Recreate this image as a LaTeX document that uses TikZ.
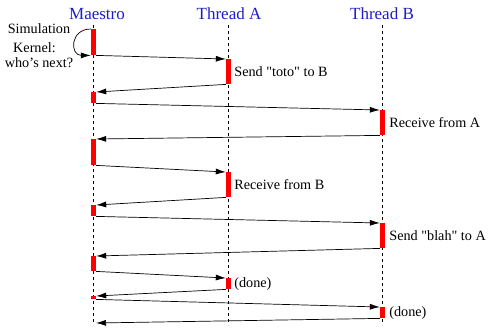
\documentclass[tikz,border=0pt]{standalone}
\usepackage{fontspec}
\setmainfont{Liberation Serif}[Ligatures=TeXOff]
\usetikzlibrary{arrows.meta}
\definecolor{titleblue}{RGB}{30,30,200}
\begin{document}
\begin{tikzpicture}[x=1pt,y=-1pt,
  title/.style={text=titleblue,font=\fontsize{17}{19}\selectfont,inner sep=0pt},
  lbl/.style={font=\fontsize{14.2}{16}\selectfont,inner sep=0pt,anchor=west},
  bar/.style={fill=red,draw=none,inner sep=0pt,minimum width=5pt,anchor=north},
  life/.style={line width=0.6pt,dash pattern=on 3pt off 3pt},
  msg/.style={line width=0.7pt,-{Latex[length=10pt,width=6pt]}}]
\useasboundingbox (0,0) rectangle (489,327);
% titles
\node[title] (tm) at (97,14) {Maestro};
\node[title] (ta) at (229,14) {Thread A};
\node[title] (tb) at (382,14) {Thread B};
% lifelines
\coordinate (mtop) at (93,25); \coordinate (mbot) at (93,325);
\coordinate (atop) at (228,25); \coordinate (abot) at (228,325);
\coordinate (btop) at (382,25); \coordinate (bbot) at (382,325);
\draw[life] (mtop) -- (mbot);
\draw[life] (atop) -- (abot);
\draw[life] (btop) -- (bbot);
% activation bars
\node[bar,minimum height=26pt] (m1) at (93.5,29) {};
\node[bar,minimum height=25pt] (a1) at (228.5,59) {};
\node[bar,minimum height=11pt] (m2) at (93.5,92) {};
\node[bar,minimum height=25pt] (b1) at (382.5,110) {};
\node[bar,minimum height=26pt] (m3) at (93.5,139) {};
\node[bar,minimum height=25pt] (a2) at (228.5,172) {};
\node[bar,minimum height=11pt] (m4) at (93.5,205) {};
\node[bar,minimum height=25pt] (b2) at (382.5,223) {};
\node[bar,minimum height=15pt] (m5) at (93.5,256) {};
\node[bar,minimum height=11pt] (a3) at (228.5,278) {};
\node[bar,minimum height=3pt] (m6) at (93.5,296) {};
\node[bar,minimum height=11pt] (b3) at (382.5,307) {};
\coordinate (mend) at (96,323);
% labels
\node[lbl] (la1) at ([xshift=3pt]a1.east) {Send "toto" to B};
\node[lbl] (lb1) at ([xshift=4pt]b1.east) {Receive from A};
\node[lbl] (la2) at ([xshift=3pt]a2.east) {Receive from B};
\node[lbl] (lb2) at ([xshift=4pt]b2.east) {Send "blah" to A};
\node[lbl] (la3) at ([xshift=3pt]a3.east) {(done)};
\node[lbl] (lb3) at ([xshift=4pt]b3.east) {(done)};
\node[lbl,anchor=center] (k1) at (39,28.5) {Simulation};
\node[lbl,anchor=center] (k2) at (34.5,48) {Kernel:};
\node[lbl,anchor=center] (k3) at (39,62.5) {who’s next?};
% loop
\draw[msg] (m1.north west) .. controls +(-21,0) and +(-21,0) .. (m1.south west);
% messages
\draw[msg] (m1.south east) -- (a1.north west);
\draw[msg] (a1.south west) -- (m2.north east);
\draw[msg] (m2.south east) -- (b1.north west);
\draw[msg] (b1.south west) -- (m3.north east);
\draw[msg] (m3.south east) -- (a2.north west);
\draw[msg] (a2.south west) -- (m4.north east);
\draw[msg] (m4.south east) -- (b2.north west);
\draw[msg] (b2.south west) -- (m5.north east);
\draw[msg] (m5.south east) -- (a3.north west);
\draw[msg] (a3.south west) -- (m6.north east);
\draw[msg] (m6.south east) -- (b3.north west);
\draw[msg] (b3.south west) -- (mend);
\end{tikzpicture}
\end{document}
